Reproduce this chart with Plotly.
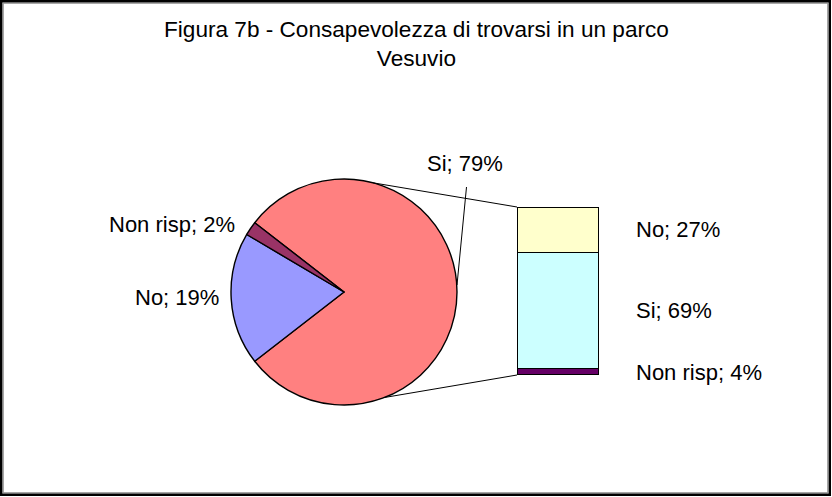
import math
import plotly.graph_objects as go

# ---- data ----
pie_labels = ["Si", "No", "Non risp"]
pie_values = [79, 19, 2]
bar_labels = ["Non risp", "Si", "No"]   # stacked bottom -> top
bar_values = [4, 69, 27]
title_text = "Figura 7b - Consapevolezza di trovarsi in un parco<br>Vesuvio"

pie_colors = ["#FF8080", "#9999FF", "#993366"]
bar_colors = ["#660066", "#CCFFFF", "#FFFFCC"]

W, H = 832, 497
FONT = "Liberation Sans, Arial, sans-serif"


def px(x):
    return x / W


def py(y):
    return 1 - y / H


# pie geometry (pixels)
cx, cy, r = 344, 292, 113
# bar geometry (pixels)
bx0, bx1, by0, by1 = 517, 599, 207, 375

total = sum(pie_values)
rotation = 90 - pie_values[0] / total * 360 / 2

fig = go.Figure()
fig.add_trace(go.Pie(
    labels=pie_labels, values=pie_values, sort=False, direction="clockwise",
    rotation=rotation, textinfo="none", showlegend=False, hoverinfo="label+percent",
    marker=dict(colors=pie_colors, line=dict(color="black", width=1.4)),
    domain=dict(x=[px(cx - r), px(cx + r)], y=[py(cy + r), py(cy - r)]),
))

for lab, val, col in zip(bar_labels, bar_values, bar_colors):
    fig.add_trace(go.Bar(
        x=[0], y=[val], name=lab, width=1, xaxis="x", yaxis="y",
        marker=dict(color=col, line=dict(color="black", width=1.2)),
        showlegend=False,
    ))

bar_total = sum(bar_values)
fig.update_layout(
    width=W, height=H, barmode="stack",
    margin=dict(l=0, r=0, t=0, b=0),
    paper_bgcolor="white", plot_bgcolor="rgba(0,0,0,0)",
    font=dict(family=FONT, size=22, color="black"),
    xaxis=dict(domain=[px(bx0), px(bx1)], range=[-0.5, 0.5], visible=False, fixedrange=True),
    yaxis=dict(domain=[py(by1), py(by0)], range=[0, bar_total], visible=False, fixedrange=True),
)

shapes = []
# connector lines from pie to bar
for ang, by in [(75, by0), (-69, by1)]:
    a = math.radians(ang)
    x0 = cx + r * math.cos(a)
    y0 = cy - r * math.sin(a)
    shapes.append(dict(type="line", xref="paper", yref="paper",
                       x0=px(x0), y0=py(y0), x1=px(bx0), y1=py(by),
                       line=dict(color="black", width=1)))
# leader line for Si label
shapes.append(dict(type="line", xref="paper", yref="paper",
                   x0=px(457), y0=py(285), x1=px(466.5), y1=py(187),
                   line=dict(color="black", width=1)))
# outer frame with slight shadow
shapes.append(dict(type="rect", xref="paper", yref="paper",
                   x0=px(3.2), y0=py(492.8), x1=px(827.8), y1=py(3.2),
                   line=dict(color="#808080", width=1)))
shapes.append(dict(type="rect", xref="paper", yref="paper",
                   x0=px(1.2), y0=py(494.8), x1=px(829.8), y1=py(1.2),
                   line=dict(color="black", width=2.4)))
fig.update_layout(shapes=shapes)

annotations = [dict(text=title_text, x=px(416.5), y=py(44), xref="paper", yref="paper",
                    xanchor="center", yanchor="middle", showarrow=False,
                    font=dict(family=FONT, size=22.6, color="black"))]
pie_pos = {"Si": (465, 164, "center"), "No": (221, 297, "right"), "Non risp": (237, 224, "right")}
for lab, val in zip(pie_labels, pie_values):
    x, y, anc = pie_pos[lab]
    annotations.append(dict(text=f"{lab}; {val}%", x=px(x), y=py(y), xref="paper", yref="paper",
                            xanchor=anc, yanchor="middle", showarrow=False,
                            font=dict(family=FONT, size=22, color="black")))
bar_pos = {"No": 229, "Si": 310, "Non risp": 372}
for lab, val in zip(bar_labels, bar_values):
    annotations.append(dict(text=f"{lab}; {val}%", x=px(634), y=py(bar_pos[lab]), xref="paper", yref="paper",
                            xanchor="left", yanchor="middle", showarrow=False,
                            font=dict(family=FONT, size=22, color="black")))
fig.update_layout(annotations=annotations)

fig.write_html("out.html", config={"displayModeBar": False},
               post_script="document.body.style.margin='0px';")
